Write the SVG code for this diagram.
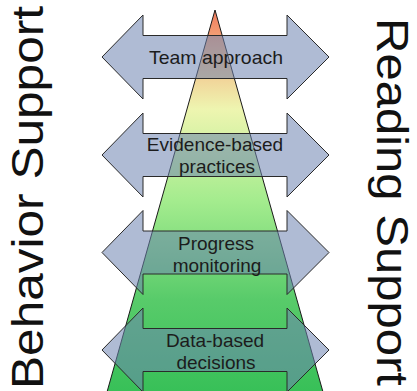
<svg xmlns="http://www.w3.org/2000/svg" xmlns:xlink="http://www.w3.org/1999/xlink" width="417" height="391" viewBox="0 0 417 391">
  <defs>
    <linearGradient id="pyr" x1="0" y1="10" x2="0" y2="391" gradientUnits="userSpaceOnUse">
      <stop offset="0" stop-color="#f07a5c"/>
      <stop offset="0.12" stop-color="#f4bb88"/>
      <stop offset="0.26" stop-color="#eef5b0"/>
      <stop offset="0.5" stop-color="#a4ec8e"/>
      <stop offset="0.76" stop-color="#58cb6a"/>
      <stop offset="1" stop-color="#38c058"/>
    </linearGradient>
    <path id="arrow" d="M102,0 L143,-42 L143,-21.5 L287,-21.5 L287,-42 L329,0 L287,42 L287,21.5 L143,21.5 L143,42 Z"/>
    <style>
      .arr { fill: #6e84b0; fill-opacity: 0.55; stroke: #2a2a2a; stroke-width: 1; }
      .lbl { font-family: "Liberation Sans", Arial, sans-serif; font-size: 19px; fill: #1c1c1c; text-anchor: middle; }
      .side { font-family: "Liberation Sans", Arial, sans-serif; font-size: 45px; fill: #111; }
    </style>
  </defs>
  <rect width="417" height="391" fill="#ffffff"/>
  <g id="pyramid">
    <path d="M215,10 L107,392 L323,392 Z" fill="url(#pyr)" stroke="#1a1a1a" stroke-width="1"/>
  </g>
  <g id="connectors"/>
  <g id="arrow-team">
    <use xlink:href="#arrow" href="#arrow" class="arr" transform="translate(0,57)"/>
    <text class="lbl" x="216" y="64" textLength="134" lengthAdjust="spacingAndGlyphs">Team approach</text>
  </g>
  <g id="arrow-evidence">
    <use xlink:href="#arrow" href="#arrow" class="arr" transform="translate(0,155)"/>
    <text class="lbl" x="215" y="151">Evidence-based</text>
    <text class="lbl" x="217" y="173">practices</text>
  </g>
  <g id="arrow-progress">
    <use xlink:href="#arrow" href="#arrow" class="arr" transform="translate(0,252.5)"/>
    <text class="lbl" x="216" y="250">Progress</text>
    <text class="lbl" x="217" y="272">monitoring</text>
  </g>
  <g id="arrow-data">
    <use xlink:href="#arrow" href="#arrow" class="arr" transform="translate(0,350)"/>
    <text class="lbl" x="215" y="347">Data-based</text>
    <text class="lbl" x="216" y="369">decisions</text>
  </g>
  <g id="label-behavior">
    <text class="side" transform="translate(43,389) rotate(-90)" textLength="383" lengthAdjust="spacingAndGlyphs">Behavior Support</text>
  </g>
  <g id="label-reading">
    <text class="side" style="font-size:44px" transform="translate(377,18) rotate(90)" textLength="368" lengthAdjust="spacingAndGlyphs">Reading Support</text>
  </g>
</svg>
